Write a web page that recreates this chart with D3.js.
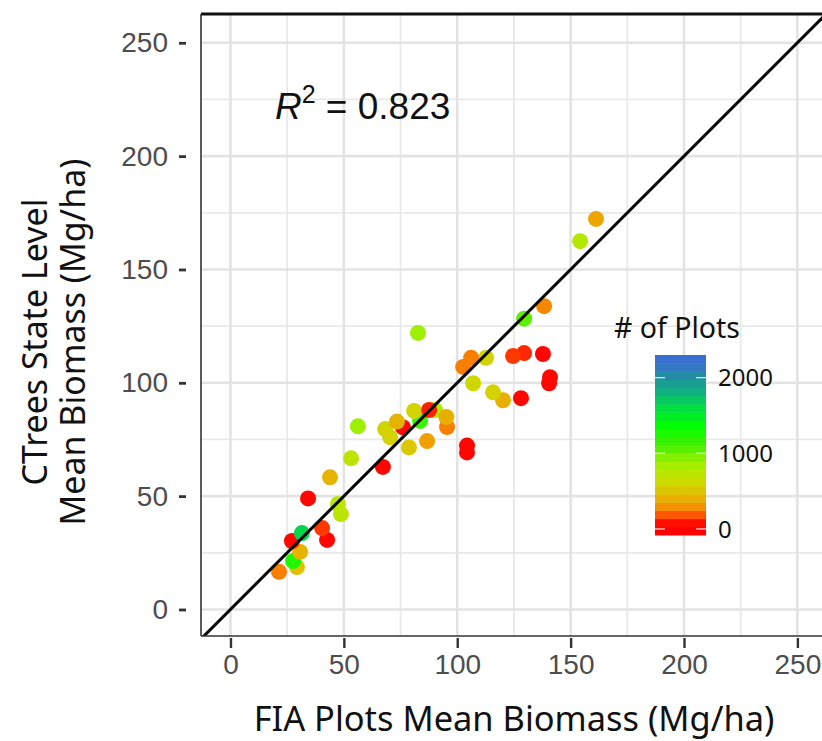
<!DOCTYPE html>
<html>
<head>
<meta charset="utf-8">
<script src="https://cdn.jsdelivr.net/npm/d3@7/dist/d3.min.js"></script>
<style>
  html, body { margin: 0; padding: 0; background: #ffffff; }
  svg { display: block; }
</style>
</head>
<body>
<svg id="chart" width="822" height="741"></svg>
<script>
// ---------------- DATA ----------------
const fiaBiomass = [
  21.4, 29.3, 27.6, 30.7, 27.1, 31.5, 42.6, 40.4, 48.7, 47.4,
  34.2, 43.9, 53.2, 56.2, 67.2, 78.7, 76.1, 70.4, 68.2, 73.4,
  83.6, 81.0, 90.2, 87.6, 86.7, 95.5, 95.2, 104.3, 104.3, 128.1,
  120.2, 115.8, 107.0, 140.5, 140.9, 137.8, 129.5, 124.6, 102.6, 112.7,
  106.1, 82.7, 129.5, 138.3, 154.2, 161.2
];
const ctreesBiomass = [
  16.6, 18.7, 21.4, 25.4, 30.2, 33.7, 30.7, 35.9, 42.1, 46.5,
  49.0, 58.3, 66.7, 80.8, 62.9, 71.5, 80.3, 76.0, 79.6, 82.9,
  83.2, 87.6, 88.0, 88.0, 74.3, 80.5, 84.9, 69.3, 72.3, 93.2,
  92.3, 95.8, 99.8, 99.8, 102.5, 112.7, 113.1, 111.8, 107.0, 111.0,
  111.0, 122.0, 128.3, 133.8, 162.5, 172.3
];
const numPlots = [
  260, 480, 1250, 420, 40, 1650, 40, 150, 720, 720,
  40, 420, 720, 880, 40, 520, 40, 580, 580, 420,
  1150, 580, 800, 120, 330, 260, 400, 40, 40, 40,
  400, 580, 600, 40, 50, 40, 130, 150, 260, 580,
  260, 880, 1050, 280, 760, 360
];
const xTicks = [0, 50, 100, 150, 200, 250];
const yTicks = [0, 50, 100, 150, 200, 250];
const minorTicks = [25, 75, 125, 175, 225];
const legendTicks = [0, 1000, 2000];
const colorStops = [0, 100, 200, 330, 480, 650, 870, 1120, 1370, 1600, 1820, 2000, 2200];
const stopColors = ["#ff0000","#ff1000","#ff6000","#f0a000","#e0c000","#c8e000","#a0f000","#40f000","#00ff00","#00e040","#10b080","#2090a0","#3a6fd0"];
const r2Value = "0.823";

// ---------------- SETUP ----------------
const svg = d3.select("#chart");
const panel = { left: 201, top: 14, bottom: 636, right: 828 };
const x = d3.scaleLinear().domain([-13, 263.5]).range([panel.left, panel.right]);
const y = d3.scaleLinear().domain([-11.7, 262.7]).range([panel.bottom, panel.top]);
const color = d3.scaleLinear().domain(colorStops).range(stopColors).clamp(true);

const tickFont = "'Liberation Sans', Arial, sans-serif";
const titleFont = "'Noto Sans', 'Open Sans', sans-serif";

function fitWidth(sel, target) {
  const w = sel.node().getComputedTextLength();
  const fs = parseFloat(sel.style("font-size"));
  if (w > 0) sel.style("font-size", (fs * target / w).toFixed(2) + "px");
}

svg.append("defs").append("clipPath").attr("id", "clip")
  .append("rect")
  .attr("x", panel.left).attr("y", panel.top)
  .attr("width", panel.right - panel.left).attr("height", panel.bottom - panel.top);

// grid
const grid = svg.append("g");
grid.selectAll("line.vmin").data(minorTicks).join("line")
  .attr("x1", d => x(d)).attr("x2", d => x(d))
  .attr("y1", panel.top).attr("y2", panel.bottom)
  .attr("stroke", "#e9e9e9").attr("stroke-width", 1.8);
grid.selectAll("line.hmin").data(minorTicks).join("line")
  .attr("y1", d => y(d)).attr("y2", d => y(d))
  .attr("x1", panel.left).attr("x2", panel.right)
  .attr("stroke", "#e9e9e9").attr("stroke-width", 1.8);
grid.selectAll("line.vmaj").data(xTicks).join("line")
  .attr("x1", d => x(d)).attr("x2", d => x(d))
  .attr("y1", panel.top).attr("y2", panel.bottom)
  .attr("stroke", "#e3e3e3").attr("stroke-width", 2.6);
grid.selectAll("line.hmaj").data(yTicks).join("line")
  .attr("y1", d => y(d)).attr("y2", d => y(d))
  .attr("x1", panel.left).attr("x2", panel.right)
  .attr("stroke", "#e3e3e3").attr("stroke-width", 2.6);

// points
const pts = fiaBiomass.map((v, i) => ({ x: v, y: ctreesBiomass[i], n: numPlots[i] }));
svg.append("g").attr("clip-path", "url(#clip)")
  .selectAll("circle").data(pts).join("circle")
  .attr("cx", d => x(d.x)).attr("cy", d => y(d.y)).attr("r", 8)
  .attr("fill", d => color(d.n));

// 1:1 line
svg.append("g").attr("clip-path", "url(#clip)")
  .append("line")
  .attr("x1", x(-20)).attr("y1", y(-20))
  .attr("x2", x(280)).attr("y2", y(280))
  .attr("stroke", "#000").attr("stroke-width", 3);

// panel border
svg.append("line").attr("x1", panel.left).attr("x2", panel.right)
  .attr("y1", panel.top).attr("y2", panel.top).attr("stroke", "#111").attr("stroke-width", 3);
svg.append("line").attr("x1", panel.left).attr("x2", panel.left)
  .attr("y1", panel.top).attr("y2", panel.bottom).attr("stroke", "#333").attr("stroke-width", 1.6);
svg.append("line").attr("x1", panel.left).attr("x2", panel.right)
  .attr("y1", panel.bottom).attr("y2", panel.bottom).attr("stroke", "#333").attr("stroke-width", 1.6);

// x axis
const xAxis = svg.append("g").attr("transform", `translate(0,${panel.bottom + 2})`)
  .call(d3.axisBottom(x).tickValues(xTicks).tickSize(10).tickPadding(6).tickFormat(d3.format("d")));
xAxis.select(".domain").remove();
xAxis.selectAll(".tick line").attr("stroke", "#333").attr("stroke-width", 2.4);
xAxis.selectAll(".tick text").attr("fill", "#4d4d4d").style("font-family", tickFont).style("font-size", "28px");

// y axis
const yAxis = svg.append("g").attr("transform", `translate(${panel.left},0)`)
  .call(d3.axisLeft(y).tickValues(yTicks).tickSize(0).tickPadding(33).tickFormat(d3.format("d")));
yAxis.select(".domain").remove();
yAxis.selectAll(".tick line").attr("x1", -22).attr("x2", -15).attr("stroke", "#333").attr("stroke-width", 2.8);
yAxis.selectAll(".tick text").attr("fill", "#4d4d4d").style("font-family", tickFont).style("font-size", "28px");

// axis titles
const xTitle = svg.append("text")
  .attr("x", 514).attr("y", 731)
  .attr("text-anchor", "middle")
  .style("font-family", titleFont).style("font-size", "30px").attr("fill", "#111")
  .text("FIA Plots Mean Biomass (Mg/ha)");
fitWidth(xTitle, 521);

const yTitle = svg.append("text")
  .attr("transform", `translate(0,${y(118)}) rotate(-90)`)
  .attr("text-anchor", "middle")
  .style("font-family", titleFont).style("font-size", "30px").attr("fill", "#111");
const yT1 = yTitle.append("tspan").attr("x", 0).attr("y", 47).text("CTrees State Level");
const yT2 = yTitle.append("tspan").attr("x", 0).attr("y", 85).text("Mean Biomass (Mg/ha)");
{
  const w2 = yT2.node().getComputedTextLength();
  const fs = parseFloat(yTitle.style("font-size"));
  yTitle.style("font-size", (fs * 367 / w2).toFixed(2) + "px");
}

// R^2 annotation
const r2 = svg.append("text")
  .attr("x", x(19.6)).attr("y", y(216.4))
  .style("font-family", tickFont).style("font-size", "37px").attr("fill", "#111");
r2.append("tspan").style("font-style", "italic").text("R");
r2.append("tspan").attr("dy", -16).style("font-size", "25px").text("2");
r2.append("tspan").attr("dy", 16).text(" = " + r2Value);

// legend
const leg = { x: 655, w: 51, top: 355, bottom: 535 };
const yL = d3.scaleLinear().domain([-80, 2300]).range([leg.bottom, leg.top]);
const nbin = 22;
const binEdges = d3.range(nbin + 1).map(i => -80 + i * (2380 / nbin));
svg.append("g").selectAll("rect").data(d3.range(nbin)).join("rect")
  .attr("x", leg.x).attr("width", leg.w)
  .attr("y", i => yL(binEdges[i + 1]))
  .attr("height", i => yL(binEdges[i]) - yL(binEdges[i + 1]) + 0.5)
  .attr("fill", i => color((binEdges[i] + binEdges[i + 1]) / 2));
const lt = svg.append("g");
lt.selectAll("line.l").data(legendTicks).join("line")
  .attr("x1", leg.x).attr("x2", leg.x + 10)
  .attr("y1", d => yL(d)).attr("y2", d => yL(d))
  .attr("stroke", "#ffffff").attr("stroke-opacity", 0.8).attr("stroke-width", 1.3);
lt.selectAll("line.r").data(legendTicks).join("line")
  .attr("x1", leg.x + leg.w - 10).attr("x2", leg.x + leg.w)
  .attr("y1", d => yL(d)).attr("y2", d => yL(d))
  .attr("stroke", "#ffffff").attr("stroke-opacity", 0.8).attr("stroke-width", 1.3);
lt.selectAll("text").data(legendTicks).join("text")
  .attr("x", leg.x + leg.w + 12).attr("y", d => yL(d)).attr("dy", "0.36em")
  .style("font-family", titleFont).style("font-size", "24px").attr("fill", "#111")
  .text(d => d);
const legTitle = svg.append("text").attr("x", 614).attr("y", 338)
  .style("font-family", titleFont).style("font-size", "24px").attr("fill", "#111")
  .text("# of Plots");
fitWidth(legTitle, 126);
</script>
</body>
</html>
